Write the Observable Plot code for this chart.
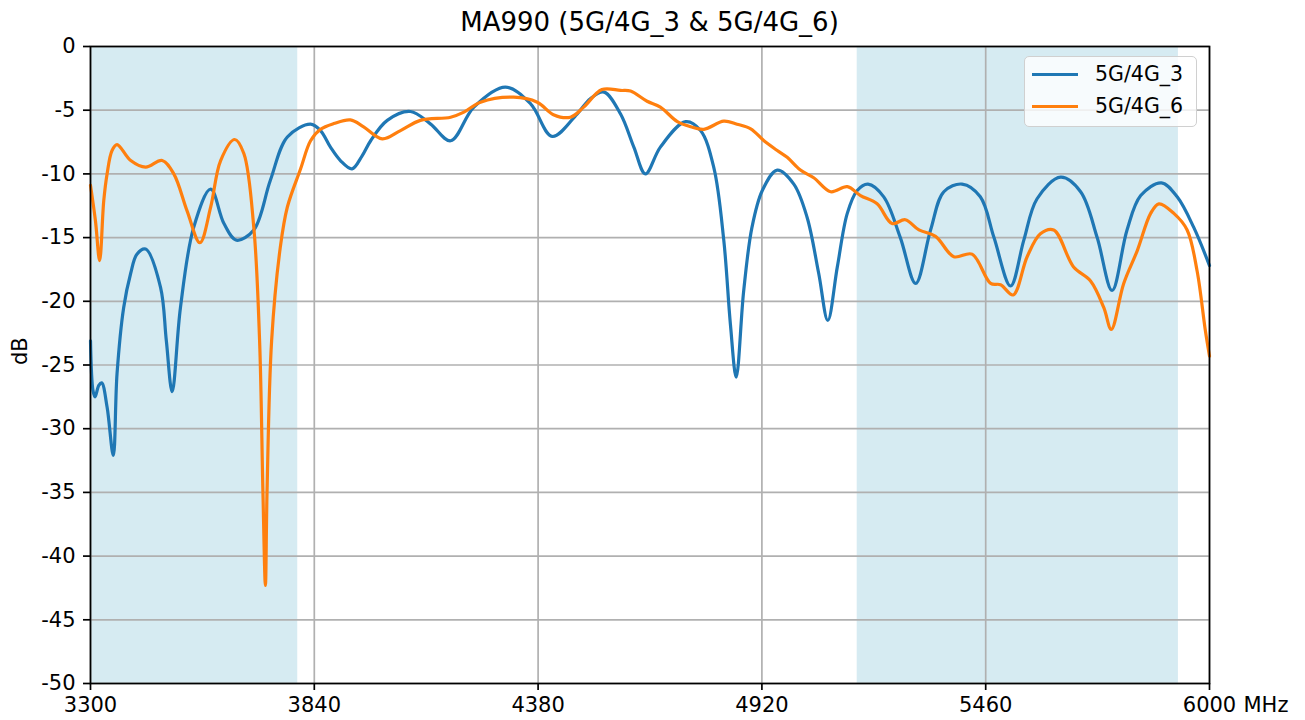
<!DOCTYPE html>
<html>
<head>
<meta charset="utf-8">
<script src="https://cdn.jsdelivr.net/npm/d3@7"></script>
<script src="https://cdn.jsdelivr.net/npm/@observablehq/plot@0.6"></script>
<style>
  html, body { margin: 0; padding: 0; background: white; }
  #wrap { position: relative; width: 1305px; height: 720px; font-family: "DejaVu Sans", sans-serif; }
  #title { position: absolute; left: 90px; width: 1119px; top: 7px; text-align: center; font-size: 26px; color: #000; }
  #legend { position: absolute; left: 1024px; top: 56px; width: 173px; height: 71px; border: 1.5px solid #d0d0d0; border-radius: 5px; background: rgba(255,255,255,0.8); box-sizing: border-box; }
  .item { position: absolute; left: 7px; height: 24px; display: flex; align-items: center; font-size: 20.5px; }
  .swatch { width: 46px; height: 3px; margin-right: 17px; }
</style>
</head>
<body>
<div id="wrap">
  <div id="chart"></div>
  <div id="title"></div>
  <div id="legend"></div>
</div>
<script>
const titleText = "MA990 (5G/4G_3 & 5G/4G_6)";
const seriesNames = ["5G/4G_3", "5G/4G_6"];
const seriesColors = ["#1f77b4", "#ff7f0e"];
const xTicks = [3300, 3840, 4380, 4920, 5460, 6000];
const yTicks = [0, -5, -10, -15, -20, -25, -30, -35, -40, -45, -50];
const xUnit = "MHz";
const yLabel = "dB";
const bandStart = [3300, 5150];
const bandEnd = [3800, 5925];

const freq3 = [3300, 3306, 3311, 3320, 3327, 3340, 3355, 3364, 3380, 3397, 3412, 3433, 3469, 3483, 3497, 3517, 3549, 3590, 3622, 3652, 3694, 3734, 3775, 3831, 3855, 3879, 3903, 3931, 3955, 3976, 4016, 4072, 4120, 4169, 4225, 4301, 4362, 4414, 4474, 4506, 4539, 4579, 4611, 4639, 4675, 4736, 4772, 4804, 4828, 4844, 4858, 4876, 4896, 4921, 4957, 4997, 5029, 5057, 5079, 5102, 5126, 5150, 5176, 5214, 5254, 5291, 5327, 5359, 5403, 5447, 5480, 5520, 5552, 5584, 5641, 5689, 5729, 5765, 5801, 5834, 5884, 5922, 5962, 6000];
const db3 = [-23.1, -27.0, -27.5, -26.6, -26.4, -28.3, -32.1, -25.7, -20.5, -17.8, -16.3, -15.9, -18.9, -23.1, -27.1, -20.5, -14.2, -11.2, -13.9, -15.2, -14.4, -10.5, -7.1, -6.1, -6.6, -7.9, -8.95, -9.6, -8.6, -7.4, -5.8, -5.1, -6.07, -7.4, -4.76, -3.19, -4.5, -7.06, -5.3, -4.1, -3.58, -5.3, -7.9, -10.0, -7.9, -5.9, -6.6, -9.5, -15.2, -21.8, -25.95, -19.2, -14.2, -11.3, -9.7, -10.8, -13.4, -17.8, -21.5, -17.3, -13.1, -11.3, -10.8, -11.8, -15.0, -18.6, -14.4, -11.4, -10.8, -11.8, -15.0, -18.8, -15.2, -11.95, -10.26, -11.4, -15.0, -19.15, -14.4, -11.7, -10.7, -11.8, -14.2, -17.2];

const freq6 = [3300, 3312, 3322, 3332, 3340, 3352, 3364, 3397, 3433, 3473, 3501, 3533, 3564, 3590, 3614, 3648, 3670, 3694, 3708, 3716, 3722, 3726, 3737, 3758, 3775, 3807, 3831, 3855, 3887, 3927, 3959, 4004, 4048, 4096, 4169, 4201, 4241, 4321, 4378, 4417, 4458, 4490, 4534, 4579, 4603, 4643, 4675, 4716, 4748, 4780, 4828, 4860, 4893, 4925, 4957, 4981, 5013, 5045, 5086, 5126, 5158, 5198, 5234, 5266, 5299, 5339, 5383, 5427, 5472, 5496, 5526, 5560, 5592, 5624, 5672, 5713, 5745, 5763, 5793, 5826, 5858, 5878, 5914, 5946, 5970, 5990, 6000];
const db6 = [-10.9, -13.7, -16.8, -12.1, -10.0, -8.16, -7.7, -8.95, -9.47, -8.95, -10.0, -12.9, -15.4, -12.6, -8.95, -7.3, -8.4, -14.2, -23.1, -34.9, -42.3, -34.9, -23.1, -15.75, -12.6, -9.6, -7.4, -6.5, -6.05, -5.76, -6.3, -7.25, -6.6, -5.8, -5.55, -5.15, -4.37, -3.98, -4.37, -5.35, -5.55, -4.76, -3.38, -3.45, -3.5, -4.3, -4.76, -5.9, -6.3, -6.5, -5.86, -6.1, -6.46, -7.4, -8.16, -8.7, -9.7, -10.3, -11.4, -11.0, -11.7, -12.35, -13.9, -13.6, -14.4, -14.9, -16.5, -16.3, -18.6, -18.7, -19.5, -16.5, -14.7, -14.4, -17.3, -18.4, -20.5, -22.2, -18.6, -16.0, -13.1, -12.35, -13.1, -14.4, -17.6, -22.3, -24.3];

const rows = [
  ...freq3.map((f, i) => ({freq: f, db: db3[i], series: seriesNames[0]})),
  ...freq6.map((f, i) => ({freq: f, db: db6[i], series: seriesNames[1]}))
];
const bands = bandStart.map((s, i) => ({start: s, end: bandEnd[i]}));

const fs = 21;
const chart = Plot.plot({
  width: 1305,
  height: 720,
  marginLeft: 90,
  marginRight: 96,
  marginTop: 46,
  marginBottom: 37,
  style: {fontFamily: "DejaVu Sans", fontSize: fs + "px", background: "white", color: "black", overflow: "visible"},
  x: {domain: [3300, 6000]},
  y: {domain: [-50, 0]},
  color: {domain: seriesNames, range: seriesColors},
  marks: [
    Plot.rect(bands, {x1: "start", x2: "end", fill: "lightblue", fillOpacity: 0.5}),
    Plot.gridX(xTicks, {stroke: "#b0b0b0", strokeOpacity: 1, strokeWidth: 1.7}),
    Plot.gridY(yTicks, {stroke: "#b0b0b0", strokeOpacity: 1, strokeWidth: 1.7}),
    Plot.line(rows, {x: "freq", y: "db", z: "series", stroke: "series", strokeWidth: 3.2, curve: "catmull-rom"}),
    Plot.frame({stroke: "black", strokeWidth: 1.7}),
    Plot.axisX(xTicks, {tickFormat: d => String(d), tickSize: 7, tickPadding: 7, strokeWidth: 1.7, label: null, fontSize: fs}),
    Plot.axisX([6000], {tickFormat: () => xUnit, tickSize: 0, tickPadding: 14, textAnchor: "start", dx: 34, label: null, fontSize: fs}),
    Plot.axisY(yTicks, {tickFormat: d => String(d), tickSize: 7, tickPadding: 8, strokeWidth: 1.7, label: null, fontSize: fs}),
    Plot.text([yLabel], {frameAnchor: "left", rotate: -90, dx: -70, fontSize: fs, fill: "black"})
  ]
});
document.getElementById("chart").appendChild(chart);
document.getElementById("title").textContent = titleText;

const legend = document.getElementById("legend");
seriesNames.forEach((name, i) => {
  const item = document.createElement("div");
  item.className = "item";
  item.style.top = (5 + i * 32) + "px";
  const sw = document.createElement("div");
  sw.className = "swatch";
  sw.style.background = seriesColors[i];
  const label = document.createElement("span");
  label.textContent = name;
  item.appendChild(sw);
  item.appendChild(label);
  legend.appendChild(item);
});
</script>
</body>
</html>
